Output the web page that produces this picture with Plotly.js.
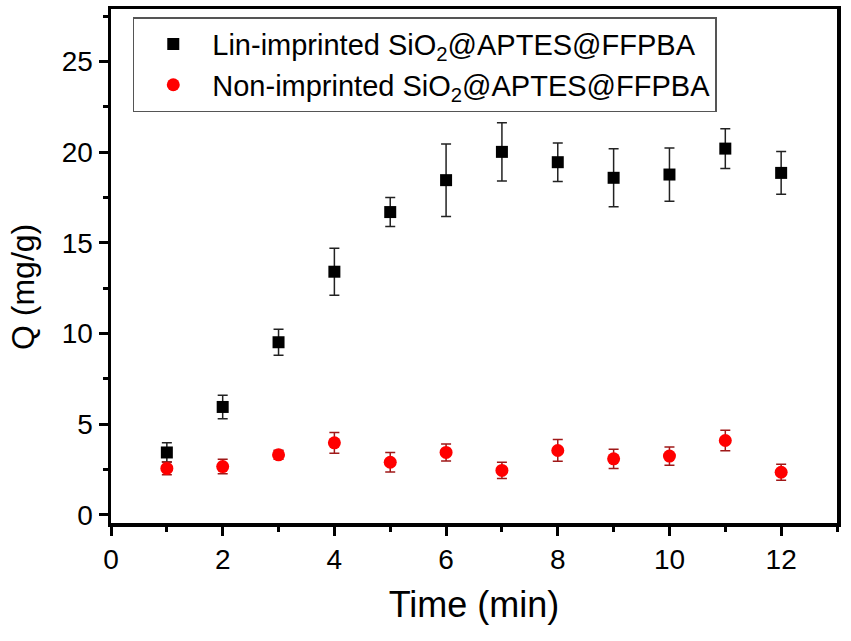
<!DOCTYPE html>
<html>
<head>
<meta charset="utf-8">
<script src="https://cdn.plot.ly/plotly-3.0.1.min.js"></script>
<style>
  html, body { margin: 0; padding: 0; background: #fff; }
  #chart { width: 851px; height: 641px; }
</style>
</head>
<body>
<div id="chart"></div>
<script>
// adsorption time (min)
const timeMin = [1, 2, 3, 4, 5, 6, 7, 8, 9, 10, 11, 12];

// Lin-imprinted
const qImprinted = [3.44, 5.95, 9.52, 13.41, 16.70, 18.46, 20.02, 19.45, 18.59, 18.77, 20.20, 18.86];
const errImprinted = [0.53, 0.65, 0.72, 1.30, 0.80, 2.00, 1.60, 1.06, 1.60, 1.47, 1.10, 1.18];

// Non-imprinted
const qNonImprinted = [2.56, 2.66, 3.31, 3.97, 2.90, 3.44, 2.45, 3.55, 3.09, 3.24, 4.10, 2.35];
const errNonImprinted = [0.35, 0.40, 0.25, 0.57, 0.54, 0.47, 0.45, 0.60, 0.53, 0.50, 0.57, 0.44];

const fontFamily = 'Liberation Sans, Arial, sans-serif';

const traces = [
    {
        name: 'Lin-imprinted SiO<sub>2</sub>@APTES@FFPBA',
        x: timeMin,
        y: qImprinted,
        type: 'scatter',
        mode: 'markers',
        marker: { symbol: 'square', size: 12, color: '#000000' },
        error_y: {
            type: 'data',
            array: errImprinted,
            visible: true,
            color: '#222222',
            thickness: 1.5,
            width: 5
        }
    },
    {
        name: 'Non-imprinted SiO<sub>2</sub>@APTES@FFPBA',
        x: timeMin,
        y: qNonImprinted,
        type: 'scatter',
        mode: 'markers',
        marker: { symbol: 'circle', size: 13, color: '#ff0000' },
        error_y: {
            type: 'data',
            array: errNonImprinted,
            visible: true,
            color: '#a01818',
            thickness: 1.5,
            width: 5
        }
    }
];

const layout = {
    width: 851,
    height: 641,
    margin: { l: 111, r: 14, t: 9, b: 118 },
    paper_bgcolor: '#ffffff',
    plot_bgcolor: '#ffffff',
    font: { family: fontFamily, color: '#000000', size: 28 },
    showlegend: true,
    legend: {
        x: 0.03,
        y: 0.984,
        xanchor: 'left',
        yanchor: 'top',
        bgcolor: '#ffffff',
        bordercolor: '#555555',
        borderwidth: 1.5,
        itemwidth: 68,
        font: { family: fontFamily, size: 29, color: '#000000' }
    },
    xaxis: {
        range: [0, 13],
        tickmode: 'linear',
        tick0: 0,
        dtick: 2,
        ticks: 'outside',
        ticklen: 9,
        tickwidth: 3,
        tickcolor: '#000000',
        minor: { dtick: 1, ticks: 'outside', ticklen: 5, tickwidth: 3, tickcolor: '#000000' },
        showline: true,
        linewidth: 3.5,
        linecolor: '#000000',
        mirror: true,
        showgrid: false,
        zeroline: false,
        tickfont: { family: fontFamily, size: 28, color: '#000000' },
        title: {
            text: 'Time (min)',
            font: { family: fontFamily, size: 36, color: '#000000' },
            standoff: 18
        }
    },
    yaxis: {
        range: [-0.45, 27.9],
        tickmode: 'linear',
        tick0: 0,
        dtick: 5,
        ticks: 'outside',
        ticklen: 9,
        tickwidth: 3,
        tickcolor: '#000000',
        minor: { dtick: 2.5, ticks: 'outside', ticklen: 5, tickwidth: 3, tickcolor: '#000000' },
        showline: true,
        linewidth: 3.5,
        linecolor: '#000000',
        mirror: true,
        showgrid: false,
        zeroline: false,
        tickfont: { family: fontFamily, size: 28, color: '#000000' }
    },
    annotations: [
        {
            text: 'Q (mg/g)',
            xref: 'paper',
            yref: 'paper',
            x: -0.122,
            y: 0.46,
            xanchor: 'center',
            yanchor: 'middle',
            textangle: -90,
            showarrow: false,
            font: { family: fontFamily, size: 32, color: '#000000' }
        }
    ]
};

Plotly.newPlot('chart', traces, layout, { displayModeBar: false, staticPlot: true });
</script>
</body>
</html>
